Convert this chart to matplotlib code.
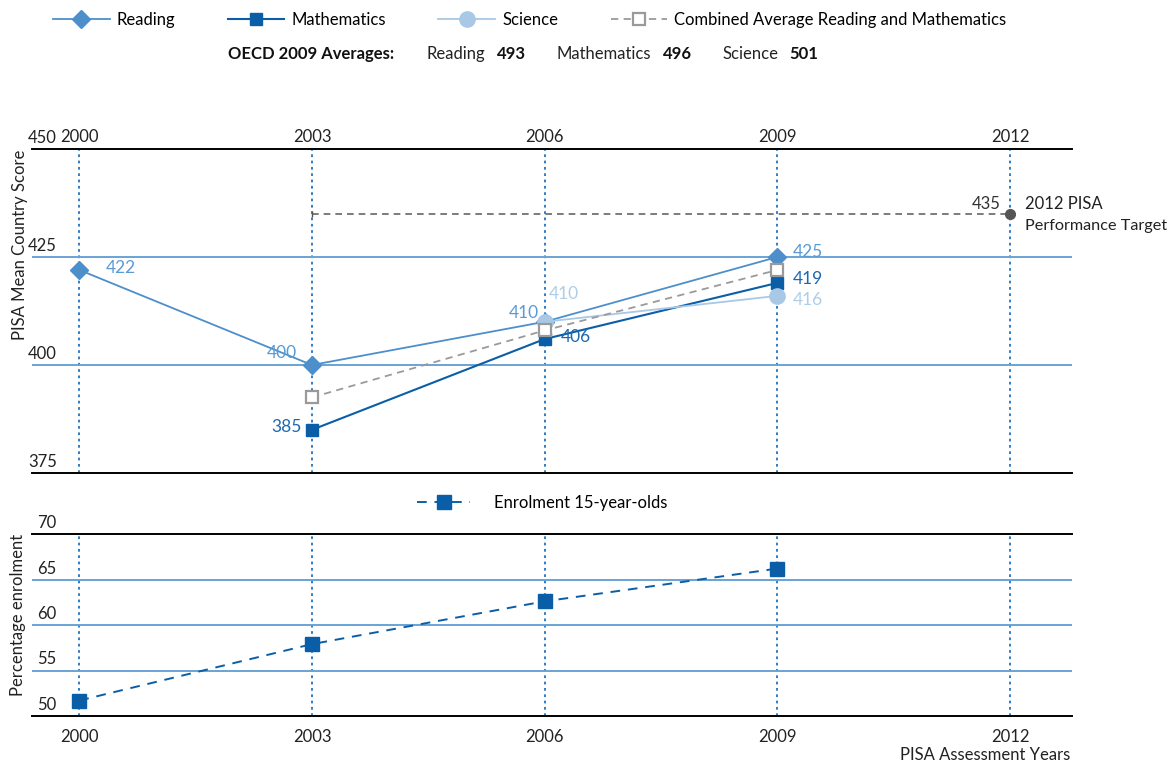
import matplotlib.pyplot as plt

plt.rcParams['font.family'] = ['Lato', 'DejaVu Sans']

# data
years = [2000, 2003, 2006, 2009, 2012]
reading_years = [2000, 2003, 2006, 2009]
reading = [422, 400, 410, 425]
math_years = [2003, 2006, 2009]
maths = [385, 406, 419]
science_years = [2006, 2009]
science = [410, 416]
combined_years = [2003, 2006, 2009]
combined = [392.5, 408, 422]
target_years = [2003, 2012]
target = 435
enrol_years = [2000, 2003, 2006, 2009]
enrol = [51.7, 57.9, 62.6, 66.2]
score_ticks = [450, 425, 400, 375]
enrol_ticks = [70, 65, 60, 55, 50]
oecd_subjects = ['Reading', 'Mathematics', 'Science']
oecd_avg = [493, 496, 501]

c_read = '#4d8fcb'
c_math = '#0a5ea8'
c_sci = '#a8c8e5'
c_comb = '#9a9a9a'
c_vline = '#1f72c0'
c_grid = '#6aa3d6'
fs = 12

W, H = 1173, 762
fig = plt.figure(figsize=(W / 100, H / 100), dpi=100)
ax = fig.add_axes([32 / W, 1 - 473 / H, 1040 / W, 324 / H])
ax2 = fig.add_axes([32 / W, 1 - 716 / H, 1040 / W, 182 / H])

xmin, xmax = 1999.39, 2012.8


def style(a, lo, hi):
    a.set_xlim(xmin, xmax)
    a.set_ylim(lo, hi)
    for s in ['left', 'right']:
        a.spines[s].set_visible(False)
    for s in ['top', 'bottom']:
        a.spines[s].set_linewidth(1.4)
        a.spines[s].set_color('black')
    a.set_yticks([])
    a.set_xticks(years)
    a.set_xticklabels([str(y) for y in years], fontsize=fs, color='#222222')
    a.tick_params(axis='x', length=0)
    for y in years:
        a.axvline(y, color=c_vline, ls=(0, (1.5, 2)), lw=1.3, zorder=1)


style(ax, 375, 450)
ax.xaxis.tick_top()
ax.tick_params(axis='x', pad=3)
for v in [425, 400]:
    ax.axhline(v, color=c_grid, lw=1.4, zorder=1)
for v in score_ticks:
    ax.annotate(str(v), xy=(0, v), xycoords=ax.get_yaxis_transform(),
                xytext=(-4, 3), textcoords='offset pixels',
                ha='left', va='bottom', fontsize=fs, color='#222222',
                annotation_clip=False)

l_read, = ax.plot(reading_years, reading, color=c_read, lw=1.3, marker='D',
                  ms=9, zorder=3)
l_math, = ax.plot(math_years, maths, color=c_math, lw=1.5, marker='s',
                  ms=8.5, zorder=4)
l_sci, = ax.plot(science_years, science, color=c_sci, lw=1.3, marker='o',
                 ms=11, zorder=4)
l_comb, = ax.plot(combined_years, combined, color=c_comb, lw=1.3,
                  ls=(0, (4, 3)), marker='s', ms=9, mfc='white',
                  mec=c_comb, mew=1.6, zorder=5)

ax.plot(target_years, [target, target], color='#666666', lw=1.2,
        ls=(0, (4, 3)), zorder=3)
ax.plot(target_years[0], target, marker='|', color='#555555', ms=5, zorder=3)
ax.plot(target_years[1], target, marker='o', color='#555555', ms=7, zorder=5)


def lab(x, y, text, color, dx, dy, ha, size=fs + 0.5):
    ax.annotate(text, xy=(x, y), xytext=(dx, dy), textcoords='offset pixels',
                ha=ha, va='center', fontsize=size, color=color, zorder=6,
                annotation_clip=False)


read_off = [(26, 2, 'left'), (-15, 12, 'right'), (-6, 9, 'right'), (15, 5, 'left')]
for x, y, (dx, dy, ha) in zip(reading_years, reading, read_off):
    lab(x, y, str(y), '#5a9bd5', dx, dy, ha)
math_off = [(-10, 3, 'right'), (16, 2, 'left'), (15, 4, 'left')]
for x, y, (dx, dy, ha) in zip(math_years, maths, math_off):
    lab(x, y, str(y), '#1d68b0', dx, dy, ha)
sci_off = [(4, 28, 'left'), (15, -4, 'left')]
for x, y, (dx, dy, ha) in zip(science_years, science, sci_off):
    lab(x, y, str(y), '#b0cde8', dx, dy, ha)
lab(target_years[1], target, str(target), '#333333', -9, 10, 'right', fs)
lab(target_years[1], target, '2012 PISA', '#222222', 15, 10, 'left', fs)
lab(target_years[1], target, 'Performance Target', '#222222', 15, -12,
    'left', fs - 0.3)

# bottom panel
style(ax2, 50, 70)
ax2.tick_params(axis='x', pad=9)
for v in [65, 60, 55]:
    ax2.axhline(v, color=c_grid, lw=1.4, zorder=1)
for v in enrol_ticks:
    ax2.annotate(str(v), xy=(0, v), xycoords=ax2.get_yaxis_transform(),
                 xytext=(5, 3), textcoords='offset pixels',
                 ha='left', va='bottom', fontsize=fs, color='#222222')
l_enr, = ax2.plot(enrol_years, enrol, color=c_math, lw=1.4, ls=(0, (5, 4)),
                  marker='s', ms=9.5, zorder=4)

ax2.legend([l_enr], ['Enrolment 15-year-olds'], loc='center',
           bbox_to_anchor=(542 / W, 1 - 503 / H), bbox_transform=fig.transFigure,
           frameon=False, fontsize=fs, handlelength=3.2, handletextpad=1.4,
           borderpad=0)

fig.legend([l_read, l_math, l_sci, l_comb],
           ['Reading', 'Mathematics', 'Science',
            'Combined Average Reading and Mathematics'],
           loc='upper left', bbox_to_anchor=(53 / W, 1 - 12 / H), ncol=4,
           frameon=False, fontsize=fs, handlelength=3.4, handletextpad=0.42,
           columnspacing=3.15, borderpad=0, borderaxespad=0)

ty = 1 - 54 / H
fig.text(228 / W, ty, 'OECD 2009 Averages:', fontsize=fs, fontweight='bold',
         va='center', color='#111111')
name_x = [426, 557, 723]
val_x = [497, 663, 789]
for nm, v, nx, vx in zip(oecd_subjects, oecd_avg, name_x, val_x):
    fig.text(nx / W, ty, nm, fontsize=fs, va='center', color='#222222')
    fig.text(vx / W, ty, str(v), fontsize=fs, fontweight='bold', va='center',
             color='#111111')

fig.text(20 / W, 1 - 245 / H, 'PISA Mean Country Score', rotation=90,
         ha='center', va='center', fontsize=fs, color='#222222')
fig.text(18 / W, 1 - 615 / H, 'Percentage enrolment', rotation=90,
         ha='center', va='center', fontsize=fs, color='#222222')
fig.text(1070 / W, 1 - 755 / H, 'PISA Assessment Years', ha='right',
         va='center', fontsize=fs, color='#222222')

fig.savefig('out.png', dpi=100)
